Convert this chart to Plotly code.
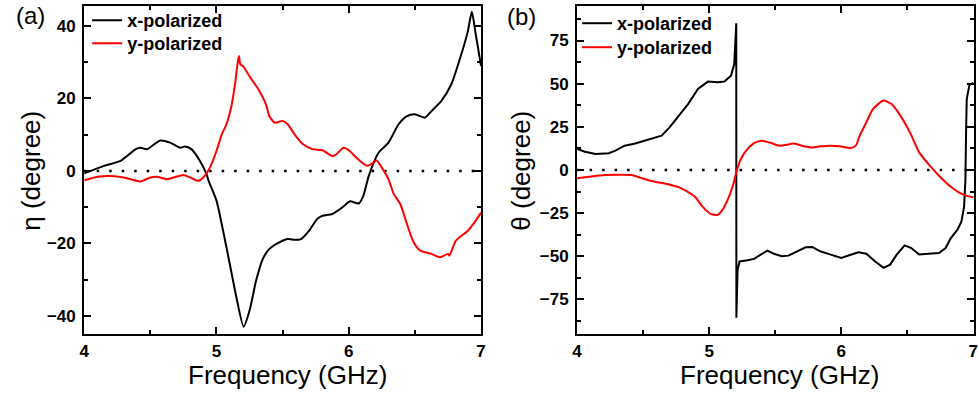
import plotly.graph_objects as go

# ---------------- Data ----------------
# Panel (a): eta (degree)
fa_x = [4.0, 4.15, 4.275, 4.39, 4.425, 4.475, 4.575, 4.65, 4.725, 4.76, 4.81, 4.875, 4.925, 4.94,
        5.0, 5.05, 5.1, 5.15, 5.205, 5.25, 5.3, 5.35, 5.4, 5.475, 5.54, 5.59, 5.64, 5.7, 5.76,
        5.8, 5.875, 5.95, 6.01, 6.075, 6.11, 6.15, 6.225, 6.3, 6.375, 6.44, 6.5, 6.575, 6.625,
        6.7, 6.775, 6.85, 6.9, 6.93, 6.96, 7.0]
eta_x = [-0.7, 1.4, 2.75, 6.0, 6.4, 6.0, 8.4, 7.8, 6.4, 6.7, 6.0, 2.75, -0.9, -2.7,
         -8.2, -16.5, -25.6, -34.8, -43.0, -38.5, -30.2, -24.3, -21.5, -19.7, -18.8, -19.0, -18.8, -16.5, -13.3,
         -12.4, -11.9, -10.1, -8.4, -9.0, -6.9, -1.5, 5.0, 7.8, 12.8, 15.1, 15.6, 14.7, 16.5,
         19.3, 23.9, 32.1, 38.5, 43.9, 37.6, 28.9]

fa_y = [4.0, 4.1, 4.2, 4.3, 4.425, 4.5, 4.55, 4.625, 4.75, 4.8, 4.86, 4.9, 4.95, 5.0, 5.04,
        5.075, 5.11, 5.14, 5.16, 5.17, 5.18, 5.2, 5.25, 5.325, 5.375, 5.4, 5.44, 5.5, 5.54,
        5.59, 5.65, 5.725, 5.8, 5.875, 5.9, 5.96, 6.0, 6.05, 6.1, 6.14, 6.175, 6.21, 6.25,
        6.3, 6.34, 6.39, 6.44, 6.49, 6.54, 6.625, 6.69, 6.75, 6.76, 6.81, 6.9, 6.95, 7.0]
eta_y = [-2.6, -1.6, -1.4, -1.8, -2.9, -1.8, -1.6, -2.3, -1.1, -1.8, -2.75, -1.8, 0.9, 5.5, 10.1,
         12.8, 17.4, 23.9, 29.8, 31.7, 29.4, 28.9, 26.1, 22.0, 18.3, 15.1, 13.3, 13.8, 12.8,
         10.1, 7.5, 6.0, 5.7, 4.1, 4.4, 6.4, 5.7, 3.9, 2.3, 1.4, 2.0, 2.9, 0.9,
         -2.3, -6.4, -9.2, -14.7, -19.7, -22.0, -22.9, -23.8, -22.9, -23.4, -19.2, -16.5, -14.2, -11.5]

# Panel (b): theta (degree)
fb_x = [4.0, 4.06, 4.14, 4.24, 4.29, 4.36, 4.44, 4.51, 4.59, 4.64, 4.70, 4.76, 4.84, 4.915,
        4.99, 5.065, 5.115, 5.165, 5.19, 5.205, 5.206, 5.215, 5.23, 5.29, 5.34, 5.39, 5.44,
        5.49, 5.55, 5.60, 5.67, 5.73, 5.78, 5.84, 5.92, 6.0, 6.06, 6.13, 6.19, 6.255, 6.32,
        6.37, 6.42, 6.48, 6.53, 6.59, 6.66, 6.74, 6.79, 6.83, 6.88, 6.91, 6.93, 6.94, 6.945,
        6.95, 6.97, 7.0]
theta_x = [12.2, 10.6, 9.3, 9.7, 11.2, 14.1, 15.4, 17.0, 18.9, 19.9, 24.7, 30.5, 38.2, 46.9,
           51.2, 50.8, 51.2, 54.6, 61.4, 85.0, -85.6, -58.0, -53.0, -52.3, -51.5, -49.0, -46.7,
           -48.5, -50.0, -49.6, -47.1, -44.8, -44.6, -47.1, -49.0, -51.0, -49.4, -47.7, -48.5, -52.9, -56.7,
           -54.8, -49.0, -43.7, -45.2, -49.0, -48.5, -48.1, -45.2, -39.4, -34.6, -29.8, -21.2, -5.8, 21.8,
           41.1, 49.2, 50.4]

fb_y = [4.0, 4.09, 4.21, 4.34, 4.41, 4.51, 4.59, 4.69, 4.79, 4.89, 4.95, 5.01, 5.065, 5.10,
        5.14, 5.18, 5.21, 5.24, 5.28, 5.34, 5.40, 5.47, 5.53, 5.58, 5.64, 5.70, 5.78, 5.84,
        5.92, 5.99, 6.07, 6.11, 6.14, 6.19, 6.24, 6.32, 6.38, 6.44, 6.52, 6.59, 6.67, 6.74,
        6.82, 6.89, 6.95, 7.0]
theta_y = [-4.8, -3.9, -2.9, -2.7, -2.9, -5.2, -6.8, -8.3, -10.6, -15.4, -21.2, -25.4, -26.0, -23.1,
           -17.3, -9.0, 0.0, 6.4, 11.2, 15.6, 17.0, 15.6, 14.1, 14.5, 15.4, 14.1, 13.1, 13.7,
           14.1, 13.7, 12.7, 14.1, 19.9, 27.6, 35.3, 40.2, 38.2, 32.4, 21.8, 10.2, 2.5, -3.3,
           -9.1, -12.9, -15.0, -15.8]

x_ticks = [4, 5, 6, 7]
ya_ticks = [-40, -20, 0, 20, 40]
yb_ticks = [-75, -50, -25, 0, 25, 50, 75]

# ---------------- Figure ----------------
W, H = 979, 394
fig = go.Figure()

BLACK = "#000000"
RED = "#ff0000"
LW = 2
FAM = "Liberation Sans, Arial, sans-serif"

fig.add_trace(go.Scatter(x=fa_x, y=eta_x, mode="lines", name="x-polarized",
                         line=dict(color=BLACK, width=LW, shape="spline", smoothing=0.6),
                         xaxis="x", yaxis="y", legend="legend"))
fig.add_trace(go.Scatter(x=fa_y, y=eta_y, mode="lines", name="y-polarized",
                         line=dict(color=RED, width=LW, shape="spline", smoothing=0.6),
                         xaxis="x", yaxis="y", legend="legend2"))
fig.add_trace(go.Scatter(x=fb_x, y=theta_x, mode="lines", name="x-polarized",
                         line=dict(color=BLACK, width=LW),
                         xaxis="x2", yaxis="y2", legend="legend3"))
fig.add_trace(go.Scatter(x=fb_y, y=theta_y, mode="lines", name="y-polarized",
                         line=dict(color=RED, width=LW, shape="spline", smoothing=0.6),
                         xaxis="x2", yaxis="y2", legend="legend4"))

tickfont = dict(family=FAM, size=17, color="black", weight="bold")

def xax(domain, anchor, rng):
    return dict(domain=domain, anchor=anchor, range=rng, tickvals=x_ticks,
                showline=True, linewidth=2, linecolor="black", mirror="ticks",
                ticks="inside", ticklen=7, tickwidth=2, tickcolor="black",
                minor=dict(dtick=0.5, tick0=4, ticks="inside", ticklen=4, tickwidth=2, tickcolor="black"),
                showgrid=False, zeroline=False, tickfont=tickfont, ticklabelstandoff=1,
                ticklabeloverflow="allow")

def yax(domain, anchor, rng, vals, mdt):
    return dict(domain=domain, anchor=anchor, range=rng, tickvals=vals,
                showline=True, linewidth=2, linecolor="black", mirror="ticks",
                ticks="inside", ticklen=7, tickwidth=2, tickcolor="black",
                minor=dict(dtick=mdt, tick0=0, ticks="inside", ticklen=4, tickwidth=2, tickcolor="black"),
                showgrid=False, zeroline=False, tickfont=tickfont, ticklabelstandoff=3)

legfont = dict(family=FAM, size=18, color="black", weight="bold")

def leg(xpx, ypx):
    return dict(x=xpx / W, y=1 - ypx / H, xanchor="left", yanchor="top", bgcolor="rgba(0,0,0,0)",
                font=legfont, tracegroupgap=0, itemwidth=30)

ydom = [1 - 334 / H, 1 - 6 / H]
fig.update_layout(
    width=W, height=H,
    margin=dict(l=0, r=0, t=0, b=0),
    paper_bgcolor="white", plot_bgcolor="white",
    xaxis=xax([80 / W, 481 / W], "y", [4, 7]),
    yaxis=yax(ydom, "x", [-45, 45.5], ya_ticks, 10),
    xaxis2=xax([578 / W, 1.0], "y2", [4, 7.005]),
    yaxis2=yax(ydom, "x2", [-95, 95], yb_ticks, 12.5),
    showlegend=True,
    legend=leg(83, 2),
    legend2=leg(83, 25),
    legend3=leg(578, 5),
    legend4=leg(578, 29),
)

# dotted zero lines
for xr, yr in (("x", "y"), ("x2", "y2")):
    fig.add_shape(type="line", xref=xr, yref=yr, x0=4, x1=7, y0=0, y1=0,
                  line=dict(color="black", width=2.5, dash="2.5px,10px"), layer="below")

pfont = dict(family=FAM, size=24, color="black")
tfont = dict(family=FAM, size=26, color="black")
for text, x, y in (("(a)", 26, 15), ("(b)", 522, 17)):
    fig.add_annotation(xref="paper", yref="paper", showarrow=False, xanchor="center", yanchor="middle",
                       font=pfont, text=text, x=x / W, y=1 - y / H)
for x in (285, 782):
    fig.add_annotation(xref="paper", yref="paper", showarrow=False, xanchor="center", yanchor="middle",
                       font=tfont, text="Frequency (GHz)", x=x / W, y=1 - 375 / H)
fig.add_annotation(xref="paper", yref="paper", showarrow=False, text="η (degree)", textangle=-90,
                   x=26 / W, y=1 - 171 / H, xanchor="center", yanchor="middle", font=tfont)
fig.add_annotation(xref="paper", yref="paper", showarrow=False, text="θ (degree)", textangle=-90,
                   x=521 / W, y=1 - 171 / H, xanchor="center", yanchor="middle", font=tfont)

fig.write_html("out.html")
